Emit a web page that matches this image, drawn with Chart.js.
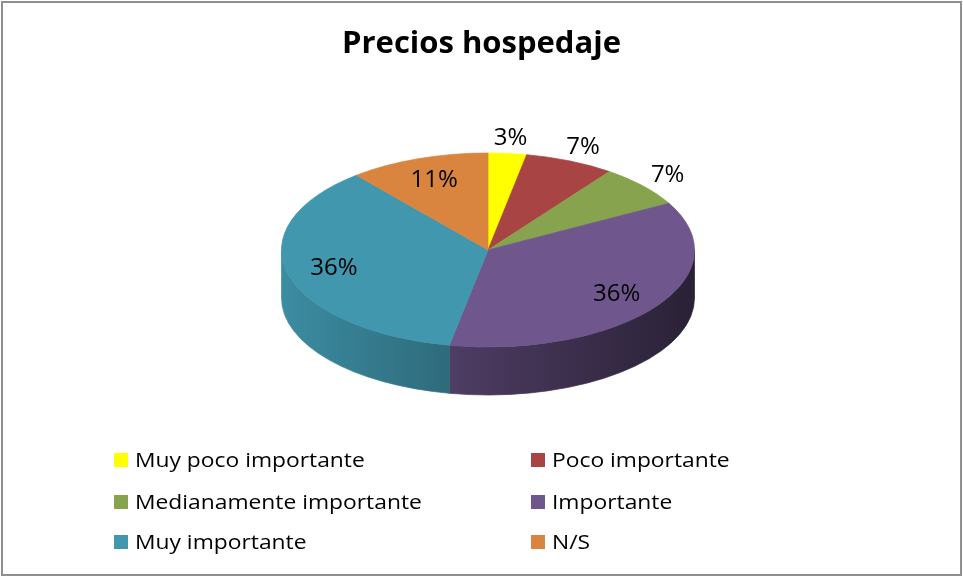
<!DOCTYPE html>
<html>
<head>
<meta charset="utf-8">
<script src="https://cdn.jsdelivr.net/npm/chart.js@4.4.1/dist/chart.umd.min.js"></script>
<style>
  html, body { margin: 0; padding: 0; background: #ffffff; }
  #wrap { position: relative; width: 963px; height: 577px; }
  canvas { display: block; }
</style>
</head>
<body>
<div id="wrap"><canvas id="c" width="963" height="577"></canvas></div>
<script>
// ---- data ----
const titleText = 'Precios hospedaje';
const categories = ['Muy poco importante', 'Poco importante', 'Medianamente importante', 'Importante', 'Muy importante', 'N/S'];
const percentValues = [3, 7, 7, 36, 36, 11];
const sliceColors = ['#FFFF00', '#A84444', '#87A34E', '#6F578D', '#4197AE', '#D9843F'];

// ---- layout / style constants ----
const PIE_CX = 488, PIE_CY = 250;   // centre of the top ellipse
const PIE_R = 206.5;                // horizontal radius
const PIE_RY = 97;                  // vertical radius of the top face
const PIE_DEPTH = 48;               // thickness of the 3D side
const TILT = PIE_RY / PIE_R;

function shade(hex, f) {
  const n = parseInt(hex.slice(1), 16);
  const r = Math.round(((n >> 16) & 255) * f), g = Math.round(((n >> 8) & 255) * f), b = Math.round((n & 255) * f);
  return `rgb(${r},${g},${b})`;
}
// lighting of the side: bright at left, dark at right
function sideLight(x) {
  return 0.93 - 0.55 * (x - (PIE_CX - PIE_R)) / (2 * PIE_R);
}

const pie3d = {
  id: 'pie3d',
  beforeDatasetsDraw(chart) {
    const ctx = chart.ctx;
    const meta = chart.getDatasetMeta(0);
    const a0 = meta.data[0];
    const cx = a0.x, cy = a0.y, r = a0.outerRadius;
    const d = PIE_DEPTH / TILT;
    ctx.save();
    ctx.translate(PIE_CX, PIE_CY);
    ctx.scale(1, TILT);
    ctx.translate(-cx, -cy);
    // side walls (visible front half: canvas angles 0..PI)
    meta.data.forEach((arc, i) => {
      const a1 = Math.max(arc.startAngle, 0);
      const a2 = Math.min(arc.endAngle, Math.PI);
      if (a2 <= a1) return;
      const xl = cx + r * Math.cos(a2), xr = cx + r * Math.cos(a1);
      const g = ctx.createLinearGradient(xl, 0, xr, 0);
      const base = chart.data.datasets[0].backgroundColor[i];
      g.addColorStop(0, shade(base, sideLight(xl - cx + PIE_CX)));
      g.addColorStop(1, shade(base, sideLight(xr - cx + PIE_CX)));
      ctx.beginPath();
      ctx.arc(cx, cy, r, a1, a2);
      ctx.arc(cx, cy + d, r, a2, a1, true);
      ctx.closePath();
      ctx.fillStyle = g;
      ctx.fill();
      ctx.strokeStyle = g;
      ctx.lineWidth = 1;
      ctx.stroke();
    });
    // the top face is drawn by Chart.js under this transform
  },
  afterDatasetsDraw(chart) {
    chart.ctx.restore();
  },
  afterDraw(chart) {
    const ctx = chart.ctx;
    const meta = chart.getDatasetMeta(0);
    const vals = chart.data.datasets[0].data;
    const total = vals.reduce((s, v) => s + v, 0);
    // data labels
    ctx.save();
    ctx.font = '24px "Open Sans"';
    ctx.fillStyle = '#000000';
    ctx.textAlign = 'center';
    ctx.textBaseline = 'middle';
    meta.data.forEach((arc, i) => {
      const mid = (arc.startAngle + arc.endAngle) / 2;
      const pct = vals[i] / total * 100;
      const f = pct < 10 ? 1.16 : 0.77;
      const x = PIE_CX + PIE_R * f * Math.cos(mid);
      const y = PIE_CY + PIE_RY * f * Math.sin(mid);
      ctx.fillText(Math.round(pct) + '%', x, y);
    });
    ctx.restore();

    // legend (2 columns)
    const colX = [114, 531];
    const rowY = [460, 502, 542];
    const box = 14;
    ctx.save();
    ctx.font = '19.5px "Open Sans"';
    ctx.textBaseline = 'middle';
    ctx.textAlign = 'left';
    chart.data.labels.forEach((lab, i) => {
      const x = colX[i % 2], y = rowY[Math.floor(i / 2)];
      ctx.fillStyle = chart.data.datasets[0].backgroundColor[i];
      ctx.fillRect(x, y - box / 2, box, box);
      ctx.save();
      ctx.translate(x + box + 7, y);
      ctx.scale(1.17, 1);
      ctx.fillStyle = '#000000';
      ctx.fillText(lab, 0, 1);
      ctx.restore();
    });
    ctx.restore();

    // frame
    ctx.save();
    ctx.strokeStyle = '#8f8f8f';
    ctx.lineWidth = 2;
    ctx.strokeRect(2, 2, 959, 573);
    ctx.restore();
  }
};

new Chart(document.getElementById('c'), {
  type: 'pie',
  data: {
    labels: categories,
    datasets: [{
      data: percentValues,
      backgroundColor: sliceColors,
      borderColor: sliceColors,
      borderWidth: 1,
      radius: PIE_R,
      clip: false
    }]
  },
  options: {
    responsive: false,
    animation: false,
    devicePixelRatio: 1,
    layout: { padding: { left: 0, right: 0, top: 0, bottom: 140 } },
    plugins: {
      legend: { display: false },
      tooltip: { enabled: false },
      title: {
        display: true,
        text: titleText,
        color: '#000000',
        font: { family: 'Open Sans', size: 31, weight: 'bold', lineHeight: 1.2 },
        padding: { top: 26, bottom: 0 }
      }
    }
  },
  plugins: [pie3d]
});
</script>
</body>
</html>
